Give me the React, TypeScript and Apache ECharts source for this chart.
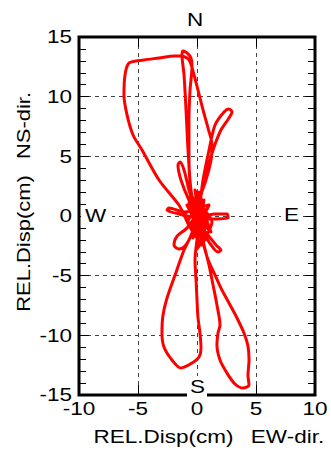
import React, { useEffect, useRef } from "react";
import * as echarts from "echarts";

// EW (x) and NS (y) relative displacement trajectory, cm
const ewDisp = [
  0, -0.25, 0.59, -0.68, 1.02, 0.17, -0.42, 0.51,
  -1.1, -2.37, -2.54, -1.53, 0.17,
  1.44, 2.54, 2.63, 1.44, 0.17,
  -0.68, -1.36, -1.61, -1.44, -1.1, -0.68, -0.08,
  -0.85, -1.69, -1.95, -1.53, -1.02, -0.51, 0,
  0.85, 1.69, 2.03, 1.78, 1.02, 0.17,
  -0.17, -1.53, -3.22, -4.66, -5.42, -5.93, -6.19, -6.1, -5.76, -4.49, -3.22, -1.95, -1.36, -0.68, -0.25, 0.08, 0.51, 0.93, 1.27, 1.19, 0.76, 0.17, -0.08,
  -0.51, -0.76, -0.93, -1.1, -1.27, -1.19, -0.85, -0.51, -0.42, -0.59, -0.68, -0.68, -0.42, 0,
  0.51, 1.02, 1.53, 2.29, 2.71, 2.97, 2.71, 2.03, 1.36, 0.76, 0.25, 0,
  -0.17, -0.68, -1.1, -1.86, -2.54, -2.88, -2.97, -2.8, -2.12, -1.36, -0.42, 0.17, 0.34, 0.25, 0.08, 0, -0.08, -0.17, 0, 0.17,
  0.42, 0.68, 1.02, 1.53, 2.03, 2.71, 3.39, 3.98, 4.32, 4.41, 4.32, 4.41, 3.9, 3.22, 2.54, 1.95, 1.69, 1.78, 1.95, 1.69, 1.36, 1.02, 0.59, 0.17,
  0.59, -0.25, 0.85, -0.68,
  -0.51, 0.68, -0.85, 1.19, -0.17, 0.42, -1.02, 1.02, -0.34, 0.17, 0.85, -0.76, 0.59, -0.08, 1.27, -0.59, 0.34, -0.25, 0.93, 0.08,
  0,
];
const nsDisp = [
  0, 0.92, -0.75, 1.34, -1.17, 1.76, -1.01, 0.67,
  0.34, 0.67, 0.5, 0.17, -0.17,
  0.17, 0.17, -0.17, -0.25, -0.17,
  1.34, 3.02, 4.27, 4.53, 3.86, 2.18, 0.34,
  -1.01, -1.68, -2.43, -2.77, -2.51, -1.68, -0.5,
  -1.51, -2.51, -2.85, -3.02, -2.18, -0.84,
  -1.34, 0.92, 3.02, 5.53, 6.79, 8.47, 10.14, 11.82, 12.82, 13.08, 13.24, 13.41, 13.41, 13.08, 11.82, 10.56, 8.89, 7.38, 5.95, 4.69, 3.02, 1.34, 0.08,
  2.18, 5.53, 8.89, 11.82, 13.5, 13.83, 13.66, 13.24, 12.57, 10.56, 8.05, 4.69, 1.34, -0.17,
  3.02, 5.53, 7.63, 8.72, 8.97, 8.72, 8.21, 7.21, 5.53, 3.44, 1.34, 0.08,
  -0.75, -2.01, -2.85, -4.95, -6.87, -8.3, -9.81, -10.98, -12.07, -12.74, -12.32, -11.82, -11.06, -9.81, -8.47, -7.04, -5.36, -3.69, -2.01, -0.75,
  -1.59, -2.85, -3.86, -4.95, -6.04, -7.29, -8.55, -9.81, -10.9, -12.07, -13.33, -14.17, -14.42, -14.08, -13.16, -12.07, -10.81, -9.81, -9.14, -7.46, -5.78, -4.11, -2.43, -0.75,
  1.34, -1.59, -0.34, 0.92,
  1.76, -2.01, 0.92, -1.34, 2.18, -2.43, 0.08, 0.92, -1.84, 2.01, -1.01, -0.5, 1.34, -2.85, -0.5, 1.51, -1.68, 0.5, 0.08, -1.17,
  0,
];

const xTicks = [-10, -5, 0, 5, 10];
const yTicks = [-15, -10, -5, 0, 5, 10, 15];
const xTitle = ["REL.Disp(cm)", "EW-dir."];
const yTitle = ["REL.Disp(cm)", "NS-dir."];
const compass = ["N", "S", "W", "E"];

const FONT = '18px "Liberation Sans", Arial, Helvetica, sans-serif';
const SX = 1.25;

export default function App() {
  const ref = useRef<HTMLDivElement>(null);
  useEffect(() => {
    const chart = echarts.init(ref.current!, null, { renderer: "svg" });
    const data = ewDisp.map((x, i) => [x, nsDisp[i]]);
    const tick = (len: number) => ({
      show: true,
      inside: true,
      length: len,
      lineStyle: { color: "#000", width: 1 },
    });
    const split = {
      show: true,
      showMinLine: false,
      showMaxLine: false,
      lineStyle: { color: "#444", width: 1, type: [4, 4] },
    };
    const noLine = { show: false, onZero: false };
    const minor = { show: true, splitNumber: 5, length: 7, lineStyle: { color: "#000", width: 1 } };
    chart.setOption({
      animation: false,
      backgroundColor: "#fff",
      grid: {
        left: 79,
        top: 37,
        width: 236,
        height: 358,
        show: true,
        borderColor: "#000",
        borderWidth: 3,
        backgroundColor: "#fff",
      },
      xAxis: [
        {
          type: "value", min: -10, max: 10, interval: 5, position: "bottom",
          axisLine: noLine, axisTick: tick(10), axisLabel: { show: false },
          splitLine: split,
        },
        {
          type: "value", min: -10, max: 10, interval: 5, position: "top",
          axisLine: noLine, axisTick: tick(10), axisLabel: { show: false },
          splitLine: { show: false },
        },
      ],
      yAxis: [
        {
          type: "value", min: -15, max: 15, interval: 5, position: "left",
          axisLine: noLine, axisTick: tick(10), axisLabel: { show: false },
          minorTick: minor, splitLine: split,
        },
        {
          type: "value", min: -15, max: 15, interval: 5, position: "right",
          axisLine: noLine, axisTick: tick(10), axisLabel: { show: false },
          minorTick: minor, splitLine: { show: false },
        },
      ],
      series: [
        {
          type: "line",
          data,
          xAxisIndex: 0,
          yAxisIndex: 0,
          showSymbol: false,
          symbol: "none",
          smooth: 0.3,
          silent: true,
          z: 3,
          lineStyle: { color: "#ff0000", width: 3, cap: "round", join: "round" },
        },
      ],
    });

    const px = (v: number) => chart.convertToPixel({ xAxisIndex: 0 }, v) as number;
    const py = (v: number) => chart.convertToPixel({ yAxisIndex: 0 }, v) as number;
    const left = px(-10), right = px(10), top = py(15), bottom = py(-15);
    const cx = px(0), cy = py(0);

    const txt = (text: string, x: number, y: number, align: string, valign: string, rot = 0, sx = SX) => ({
      type: "text",
      x, y, rotation: rot, scaleX: sx, z: 110,
      silent: true,
      style: { text, x: 0, y: 0, font: FONT, fill: "#000", textAlign: align, textVerticalAlign: valign },
    });
    const box = (x: number, y: number, w: number, h: number) => ({
      type: "rect", z: 105, silent: true,
      shape: { x, y, width: w, height: h },
      style: { fill: "#fff" },
    });

    const elements: any[] = [];
    xTicks.forEach((v) => elements.push(txt(String(v), px(v), bottom + 14, "center", "middle")));
    yTicks.forEach((v) => elements.push(txt(String(v), left - 7, py(v), "right", "middle")));
    // axis titles
    elements.push(txt(xTitle[0], 163.5, 437, "center", "middle"));
    elements.push(txt(xTitle[1], 287.5, 437, "center", "middle"));
    elements.push(txt(yTitle[0], 24, 243.5, "center", "middle", Math.PI / 2, 1.22));
    elements.push(txt(yTitle[1], 24, 125.5, "center", "middle", Math.PI / 2, 1.22));
    // compass
    elements.push(txt(compass[0], cx - 2, top - 17, "center", "middle"));
    elements.push(box(cx - 10, bottom - 19, 20, 23));
    elements.push(txt(compass[1], cx + 0.5, bottom - 8.5, "center", "middle"));
    elements.push(box(left + 2, cy - 9, 31, 18));
    elements.push(txt(compass[2], left + 16.5, cy, "center", "middle"));
    elements.push(box(right - 34, cy - 9, 21, 18));
    elements.push(txt(compass[3], right - 23.5, cy - 1, "center", "middle"));

    chart.setOption({ graphic: { elements } });
    return () => chart.dispose();
  }, []);
  return (
    <div
      ref={ref}
      style={{ position: "absolute", left: 0, top: 0, width: 331, height: 450, background: "#fff" }}
    />
  );
}
